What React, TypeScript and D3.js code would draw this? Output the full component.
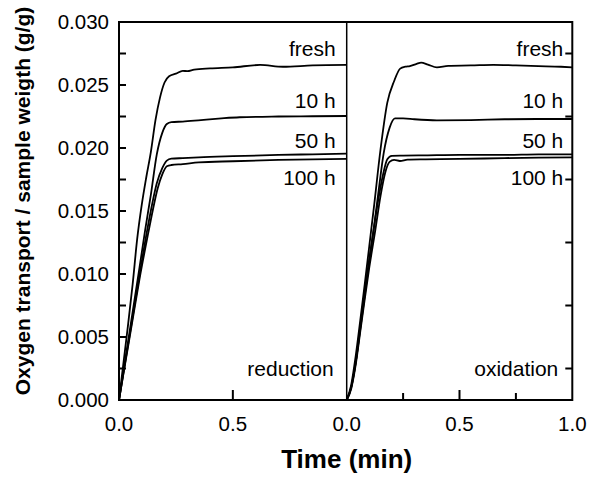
import React from "react";
import * as d3 from "d3";

type P = [number, number];

const reductionFresh: P[] = [[0,0],[0.02,0.003],[0.04,0.006],[0.06,0.0092],[0.08,0.0128],[0.1,0.0155],[0.12,0.0177],[0.14,0.0197],[0.16,0.0222],[0.18,0.024],[0.2,0.0252],[0.22,0.0257],[0.25,0.0259],[0.28,0.02612],[0.3,0.0261],[0.33,0.02622],[0.4,0.02632],[0.5,0.0264],[0.62,0.02659],[0.72,0.02645],[0.85,0.02655],[1,0.02659]];
const reduction10h: P[] = [[0,0],[0.03,0.0035],[0.06,0.007],[0.09,0.0105],[0.115,0.0135],[0.14,0.0163],[0.166,0.0195],[0.19,0.0212],[0.21,0.0219],[0.23,0.02205],[0.28,0.0221],[0.36,0.02222],[0.45,0.02235],[0.53,0.02244],[0.7,0.0225],[0.85,0.02252],[1,0.02254]];
const reduction50h: P[] = [[0,0],[0.03,0.0033],[0.06,0.0066],[0.09,0.0099],[0.122,0.0133],[0.145,0.0155],[0.166,0.0172],[0.19,0.0184],[0.21,0.019],[0.23,0.01915],[0.28,0.0192],[0.35,0.01926],[0.5,0.01935],[0.7,0.01945],[0.85,0.0195],[1,0.01955]];
const reduction100h: P[] = [[0,0],[0.03,0.0032],[0.06,0.0064],[0.09,0.0096],[0.129,0.0133],[0.15,0.0152],[0.17,0.0168],[0.19,0.0179],[0.21,0.01855],[0.23,0.01865],[0.28,0.01872],[0.35,0.01886],[0.5,0.01895],[0.7,0.01905],[0.85,0.0191],[1,0.01913]];

const oxidationFresh: P[] = [[0,0],[0.02,0.0012],[0.04,0.0035],[0.06,0.0063],[0.08,0.0092],[0.1,0.0122],[0.12,0.0152],[0.15,0.0199],[0.18,0.0236],[0.21,0.0253],[0.237,0.0263],[0.26,0.02645],[0.28,0.0265],[0.31,0.02668],[0.33,0.02677],[0.36,0.02662],[0.4,0.0264],[0.45,0.02652],[0.55,0.02655],[0.65,0.0266],[0.75,0.02655],[0.85,0.0265],[0.95,0.02645],[1,0.0264]];
const oxidation10h: P[] = [[0,0],[0.02,0.001],[0.04,0.003],[0.06,0.0056],[0.08,0.0083],[0.1,0.011],[0.12,0.0136],[0.14,0.0164],[0.164,0.0196],[0.19,0.0216],[0.214,0.02235],[0.25,0.02235],[0.3,0.02228],[0.4,0.0222],[0.55,0.02222],[0.7,0.02228],[0.85,0.0223],[1,0.0223]];
const oxidation50h: P[] = [[0,0],[0.02,0.001],[0.04,0.003],[0.06,0.0058],[0.08,0.0086],[0.1,0.0112],[0.12,0.0136],[0.14,0.0159],[0.16,0.0178],[0.18,0.0191],[0.2,0.01938],[0.25,0.0194],[0.35,0.01942],[0.5,0.01945],[0.7,0.01945],[0.85,0.0195],[1,0.0195]];
const oxidation100h: P[] = [[0,0],[0.02,0.0009],[0.04,0.0028],[0.06,0.0054],[0.08,0.008],[0.1,0.0105],[0.127,0.0135],[0.15,0.0162],[0.17,0.018],[0.19,0.0189],[0.21,0.01905],[0.236,0.01897],[0.27,0.01908],[0.35,0.0191],[0.5,0.01913],[0.7,0.0192],[0.85,0.01924],[1,0.01926]];

const seriesLabels = ["fresh", "10 h", "50 h", "100 h"];
const labelValues = [0.0273, 0.02317, 0.02, 0.01706];
const panelNames = ["reduction", "oxidation"];
const yTicks = [0, 0.005, 0.01, 0.015, 0.02, 0.025, 0.03];
const yMinorTicks = [0.0025, 0.0075, 0.0125, 0.0175, 0.0225, 0.0275];
const leftXTicks = [0, 0.5];
const rightXTicks = [0, 0.5, 1];
const rightXMinor = [0.25, 0.75];

const W = 591, H = 482;
const X0 = 119, XMID = 346.7, X1 = 572.3, YT = 22, YB = 400;
const FONT = "Liberation Sans, Arial, sans-serif";

export default function App() {
  const xL = d3.scaleLinear().domain([0, 1]).range([X0, XMID]);
  const xR = d3.scaleLinear().domain([0, 1]).range([XMID, X1]);
  const y = d3.scaleLinear().domain([0, 0.03]).range([YB, YT]);
  const lineL = d3.line<P>().x(d => xL(d[0])).y(d => y(d[1])).curve(d3.curveMonotoneX);
  const lineR = d3.line<P>().x(d => xR(d[0])).y(d => y(d[1])).curve(d3.curveMonotoneX);
  const red = [reductionFresh, reduction10h, reduction50h, reduction100h];
  const oxi = [oxidationFresh, oxidation10h, oxidation50h, oxidation100h];
  const fmt = d3.format(".3f");
  const fmtX = d3.format(".1f");
  return (
    <svg width={W} height={H} style={{ position: "absolute", left: 0, top: 0, background: "#fff" }} fontFamily={FONT}>
      <rect x={0} y={0} width={W} height={H} fill="#fff" />
      {red.map((s, i) => <path key={"r" + i} d={lineL(s) || ""} fill="none" stroke="#000" strokeWidth={1.8} />)}
      {oxi.map((s, i) => <path key={"o" + i} d={lineR(s) || ""} fill="none" stroke="#000" strokeWidth={1.8} />)}
      <rect x={X0} y={YT} width={X1 - X0} height={YB - YT} fill="none" stroke="#000" strokeWidth={2} />
      <line x1={XMID} x2={XMID} y1={YT} y2={YB} stroke="#000" strokeWidth={1.5} />
      {yTicks.map(t => (
        <g key={"yt" + t}>
          <line x1={X0} x2={X0 + 7} y1={y(t)} y2={y(t)} stroke="#000" strokeWidth={2} />
          <text x={109} y={y(t)} dy="0.35em" textAnchor="end" fontSize={20.5}>{fmt(t)}</text>
        </g>
      ))}
      {yMinorTicks.map(t => (
        <g key={"ym" + t}>
          <line x1={X0} x2={X0 + 7} y1={y(t)} y2={y(t)} stroke="#000" strokeWidth={2} />
          <line x1={X1} x2={X1 - 7} y1={y(t)} y2={y(t)} stroke="#000" strokeWidth={2} />
        </g>
      ))}
      {leftXTicks.map(t => (
        <g key={"xl" + t}>
          {t > 0 && <line x1={xL(t)} x2={xL(t)} y1={YB} y2={YB - 10} stroke="#000" strokeWidth={2} />}
          <text x={xL(t)} y={431} textAnchor="middle" fontSize={20.5}>{fmtX(t)}</text>
        </g>
      ))}
      {rightXTicks.map(t => (
        <g key={"xr" + t}>
          {t > 0 && t < 1 && <line x1={xR(t)} x2={xR(t)} y1={YB} y2={YB - 10} stroke="#000" strokeWidth={2} />}
          <text x={xR(t)} y={431} textAnchor="middle" fontSize={20.5}>{fmtX(t)}</text>
        </g>
      ))}
      {rightXMinor.map(t => (
        <line key={"xm" + t} x1={xR(t)} x2={xR(t)} y1={YB} y2={YB - 7} stroke="#000" strokeWidth={2} />
      ))}
      {seriesLabels.map((s, i) => (
        <g key={"lab" + i}>
          <text x={XMID - 11} y={y(labelValues[i])} textAnchor="end" fontSize={21}>{s}</text>
          <text x={X1 - 9} y={y(labelValues[i])} textAnchor="end" fontSize={21}>{s}</text>
        </g>
      ))}
      <text x={XMID - 13} y={376} textAnchor="end" fontSize={21}>{panelNames[0]}</text>
      <text x={X1 - 14} y={376} textAnchor="end" fontSize={21}>{panelNames[1]}</text>
      <text x={XMID} y={468} textAnchor="middle" fontSize={26} fontWeight="bold">Time (min)</text>
      <text transform={`translate(30,${201}) rotate(-90)`} textAnchor="middle" fontSize={21} fontWeight="bold">Oxygen transport / sample weigth (g/g)</text>
    </svg>
  );
}
